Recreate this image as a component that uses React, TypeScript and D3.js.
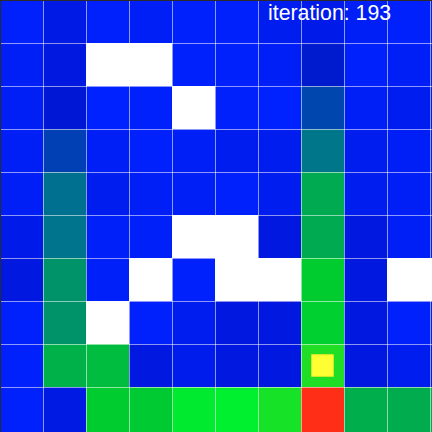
import { useEffect, useRef } from 'react'
import * as d3 from 'd3'

const size = 432
const cellSize = 43
const nRows = 10
const nCols = 10
const iteration = 193

// value estimate per cell (null = wall / goal)
const values: (number | null)[][] = [
  [0.01, 0.08, 0.01, 0.03, 0.01, 0.01, 0.05, 0.07, 0.03, 0.01],
  [0.03, 0.1, null, null, 0.01, 0.01, 0.03, 0.14, 0.01, 0.03],
  [0.03, 0.12, 0.0, 0.01, null, 0.01, 0.0, 0.27, 0.03, 0.05],
  [0.03, 0.25, 0.03, 0.01, 0.03, 0.05, 0.05, 0.42, 0.05, 0.03],
  [0.03, 0.4, 0.05, 0.03, 0.03, 0.01, 0.05, 0.6, 0.05, 0.03],
  [0.07, 0.41, 0.02, 0.02, null, null, 0.1, 0.6, 0.1, 0.03],
  [0.1, 0.52, 0.02, null, 0.01, null, null, 0.75, 0.1, null],
  [0.01, 0.52, null, 0.01, 0.05, 0.1, 0.1, 0.77, 0.1, 0.01],
  [0.01, 0.63, 0.68, 0.1, 0.06, 0.1, 0.1, 1.0, 0.1, 0.05],
  [0.01, 0.09, 0.75, 0.74, 0.88, 0.9, 0.97, null, 0.62, 0.61],
]

const walls: [number, number][] = [
  [1, 2], [1, 3], [2, 4], [5, 4], [5, 5], [6, 3], [6, 5], [6, 6], [6, 9], [7, 2],
]
const goal: [number, number] = [9, 7]
const agent: [number, number] = [8, 7]

const colorStops = [0, 0.1, 0.13, 0.4, 0.6, 0.75, 0.9, 1]
const colorRange = ['#0022ff', '#0018e0', '#0018d0', '#007090', '#00aa50', '#00cc30', '#00f030', '#20dd25']

export default function App() {
  const svgRef = useRef<SVGSVGElement>(null)

  useEffect(() => {
    if (!svgRef.current) return
    const svg = d3.select(svgRef.current)
    svg.selectAll('*').remove()

    const x = d3.scaleBand<number>().domain(d3.range(nCols)).range([0, nCols * cellSize])
    const y = d3.scaleBand<number>().domain(d3.range(nRows)).range([0, nRows * cellSize])
    const color = d3.scaleLinear<string>()
      .domain(colorStops)
      .range(colorRange)
      .interpolate(d3.interpolateRgb)
      .clamp(true)

    const cells = values.flatMap((row, r) => row.map((v, c) => ({ r, c, v })))
    const cw = (c: number) => (c === nCols - 1 ? size - x(c)! : x.bandwidth())
    const ch = (r: number) => (r === nRows - 1 ? size - y(r)! : y.bandwidth())

    svg.append('g')
      .selectAll('rect')
      .data(cells)
      .enter()
      .append('rect')
      .attr('x', d => x(d.c)!)
      .attr('y', d => y(d.r)!)
      .attr('width', d => cw(d.c))
      .attr('height', d => ch(d.r))
      .attr('fill', d => (d.v == null ? '#ffffff' : color(d.v)))
      .attr('shape-rendering', 'crispEdges')

    svg.append('g')
      .selectAll('rect')
      .data(walls)
      .enter()
      .append('rect')
      .attr('x', d => x(d[1])!)
      .attr('y', d => y(d[0])!)
      .attr('width', d => cw(d[1]))
      .attr('height', d => ch(d[0]))
      .attr('fill', '#ffffff')
      .attr('shape-rendering', 'crispEdges')

    svg.append('rect')
      .attr('x', x(goal[1])!)
      .attr('y', y(goal[0])!)
      .attr('width', cw(goal[1]))
      .attr('height', ch(goal[0]))
      .attr('fill', '#ff2e16')
      .attr('shape-rendering', 'crispEdges')

    // agent marker
    const half = x.bandwidth() / 2
    svg.append('rect')
      .attr('x', x(agent[1])! + half / 2)
      .attr('y', y(agent[0])! + half / 2)
      .attr('width', half)
      .attr('height', half)
      .attr('fill', '#ffff33')
      .attr('stroke', '#eeee2a')
      .attr('stroke-width', 1)

    svg.append('text')
      .attr('x', 268)
      .attr('y', 20)
      .attr('fill', '#ffffff')
      .style('font-family', '"Liberation Sans", Arial, Helvetica, sans-serif')
      .style('font-size', '21.3px')
      .text(`iteration: ${iteration}`)

    // grid lines over everything
    const grid = svg.append('g')
      .attr('stroke', '#ffffff')
      .attr('stroke-opacity', 0.55)
      .attr('stroke-width', 1)
      .attr('shape-rendering', 'crispEdges')
    grid.selectAll('line.v')
      .data(d3.range(1, nCols + 1))
      .enter()
      .append('line')
      .attr('x1', d => d * cellSize)
      .attr('x2', d => d * cellSize)
      .attr('y1', 0)
      .attr('y2', size)
    grid.selectAll('line.h')
      .data(d3.range(1, nRows))
      .enter()
      .append('line')
      .attr('x1', 0)
      .attr('x2', size)
      .attr('y1', d => d * cellSize)
      .attr('y2', d => d * cellSize)

    svg.append('rect').attr('x', 0).attr('y', 0).attr('width', size).attr('height', 1).attr('fill', '#2b2b2b')
    svg.append('rect').attr('x', 0).attr('y', 0).attr('width', 1).attr('height', size).attr('fill', '#2b2b2b')
  }, [])

  return (
    <svg
      ref={svgRef}
      width={size}
      height={size}
      style={{ position: 'fixed', top: 0, left: 0, display: 'block' }}
    />
  )
}
